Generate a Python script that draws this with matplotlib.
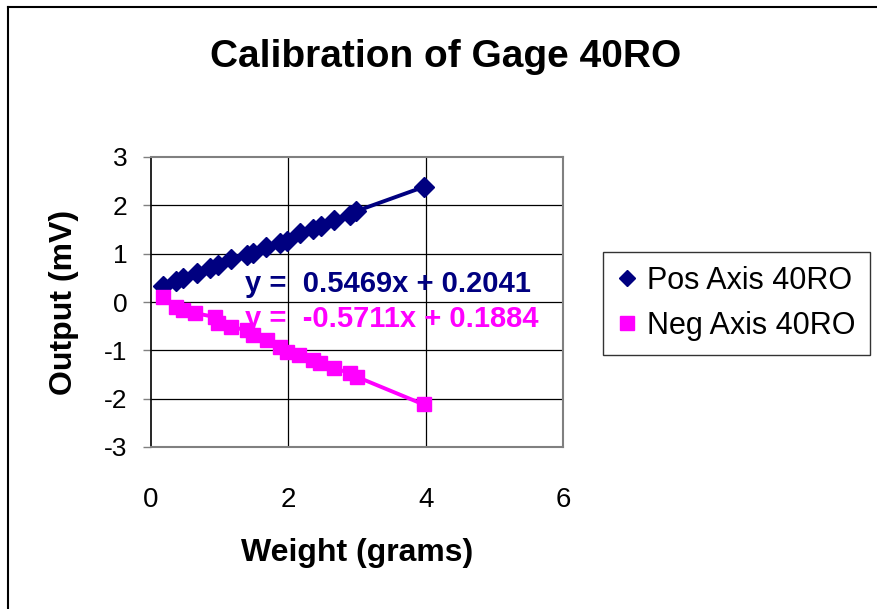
import matplotlib.pyplot as plt
from matplotlib.lines import Line2D

plt.rcParams['font.family'] = ['Liberation Sans', 'DejaVu Sans']
plt.rcParams['axes.unicode_minus'] = False

# datos
pos_x = [0.17, 0.37, 0.47, 0.67, 0.86, 0.97, 1.16, 1.40, 1.49, 1.67, 1.88, 1.98,
         2.17, 2.36, 2.48, 2.66, 2.90, 2.99, 3.97]
pos_y = [0.33, 0.44, 0.50, 0.61, 0.71, 0.76, 0.89, 0.97, 1.01, 1.13, 1.23, 1.27,
         1.42, 1.52, 1.58, 1.69, 1.79, 1.88, 2.38]
neg_x = [0.17, 0.37, 0.47, 0.64, 0.93, 0.97, 1.16, 1.40, 1.49, 1.69, 1.88, 1.98,
         2.15, 2.36, 2.46, 2.66, 2.90, 3.00, 3.97]
neg_y = [0.10, -0.10, -0.17, -0.23, -0.31, -0.43, -0.52, -0.58, -0.68, -0.79, -0.93,
         -1.03, -1.10, -1.20, -1.27, -1.37, -1.47, -1.55, -2.12]

eq_pos = "y =  0.5469x + 0.2041"
eq_neg = "y =  -0.5711x + 0.1884"
x_ticks = [0, 2, 4, 6]
y_ticks = [-3, -2, -1, 0, 1, 2, 3]

navy = '#000080'
magenta = '#FF00FF'

fig = plt.figure(figsize=(8.77, 6.09), dpi=100)
ax = fig.add_axes([151 / 877, 1 - 447 / 609, 412 / 877, 290 / 609])

# grilla tipo Excel
for yv in y_ticks[1:-1]:
    ax.axhline(yv, color='black', lw=0.9, zorder=1)
for xv in x_ticks[1:-1]:
    ax.axvline(xv, color='black', lw=0.9, zorder=1)

ax.plot(pos_x, pos_y, color=navy, marker='D', markersize=10, lw=2.8, zorder=3)
ax.plot(neg_x, neg_y, color=magenta, marker='s', markersize=10, lw=2.8, zorder=3)

ax.text(1.37, 0.37, eq_pos, color=navy, fontsize=21, fontweight='bold',
        ha='left', va='center', zorder=4)
ax.text(1.37, -0.35, eq_neg, color=magenta, fontsize=21, fontweight='bold',
        ha='left', va='center', zorder=4)

ax.set_xlim(0, 6)
ax.set_ylim(-3, 3)
ax.set_xticks(x_ticks)
ax.set_yticks(y_ticks)
ax.tick_params(axis='x', length=0, pad=29, labelsize=20)
ax.tick_params(axis='y', length=6, width=1, color='#808080', pad=11, labelsize=19)

for s in ['top', 'right', 'bottom']:
    ax.spines[s].set_color('#808080')
    ax.spines[s].set_linewidth(1.5)
ax.spines['left'].set_color('black')
ax.spines['left'].set_linewidth(1.2)

ax.set_xlabel('Weight (grams)', fontsize=23, fontweight='bold', labelpad=18)
ax.set_ylabel('Output (mV)', fontsize=23, fontweight='bold', labelpad=18)

fig.text(446 / 877, 1 - 57 / 609, 'Calibration of Gage 40RO', fontsize=28,
         fontweight='bold', ha='center', va='center')

handles = [Line2D([], [], color=navy, marker='D', markersize=8, ls='none'),
           Line2D([], [], color=magenta, marker='s', markersize=10, ls='none')]
leg = fig.legend(handles, ['Pos Axis 40RO', 'Neg Axis 40RO'], loc='upper left',
                 bbox_to_anchor=(603 / 877, 1 - 252 / 609), fontsize=22,
                 frameon=True, fancybox=False, handlelength=0.7, handletextpad=0.3,
                 borderpad=0.45, labelspacing=0.5, borderaxespad=0)
leg.get_frame().set_edgecolor('black')
leg.get_frame().set_linewidth(1.0)

# borde del area del grafico
fig.add_artist(Line2D([8 / 877, 8 / 877], [0, 1 - 7 / 609], color='black', lw=1.5))
fig.add_artist(Line2D([8 / 877, 1], [1 - 7 / 609, 1 - 7 / 609], color='black', lw=1.5))

fig.savefig('out.png', dpi=100)
